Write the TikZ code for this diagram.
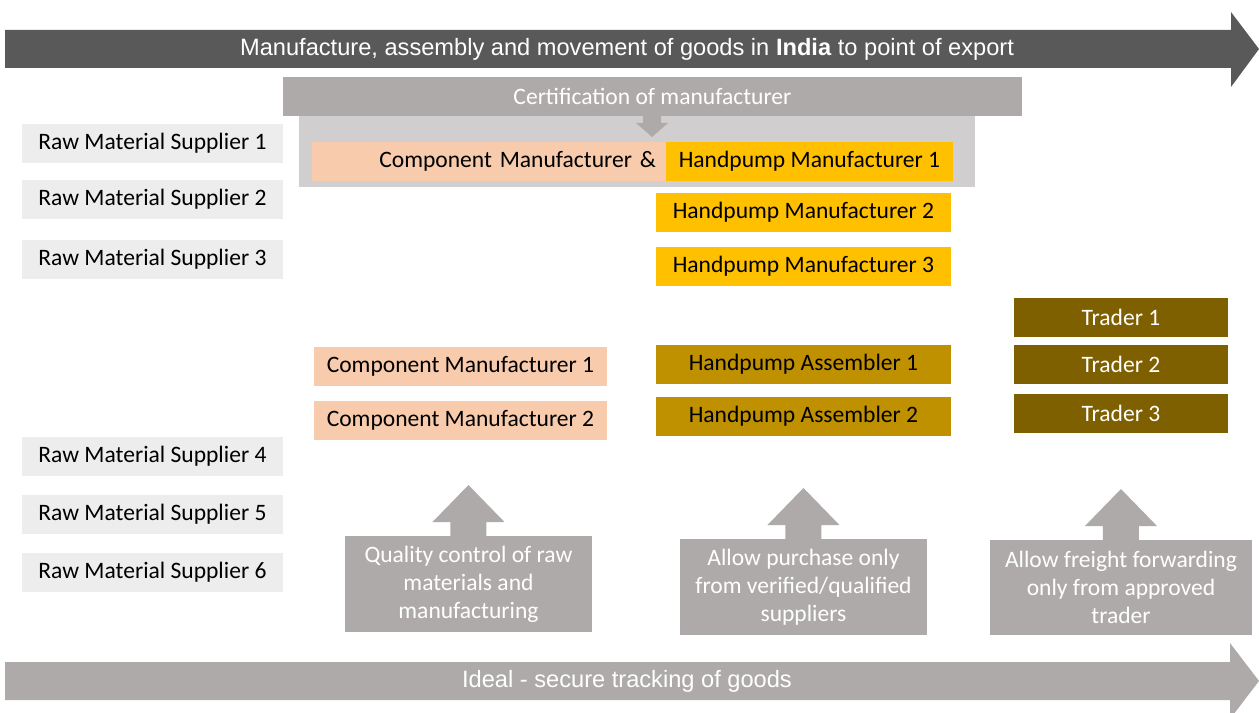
\documentclass[tikz,border=0pt]{standalone}
\usepackage{fontspec}
\setmainfont{Carlito}
\newfontfamily\arialfont{Liberation Sans}
\definecolor{darkband}{HTML}{595959}
\definecolor{midgray}{HTML}{AEAAAA}
\definecolor{certback}{HTML}{D0CECE}
\definecolor{supgray}{HTML}{EDEDED}
\definecolor{peach}{HTML}{F8CBAD}
\definecolor{gold}{HTML}{FFC000}
\definecolor{darkgold}{HTML}{BF9000}
\definecolor{tradebrown}{HTML}{7F6000}

\begin{document}
\begin{tikzpicture}[x=0.02cm, y=-0.02cm,
    font=\fontsize{13.4}{16}\selectfont,
    blk/.style={inner sep=0pt, outer sep=0pt, anchor=north west, minimum height=0.78cm},
    supplier/.style={blk, fill=supgray, minimum width=5.22cm},
    comp/.style={blk, fill=peach, minimum width=5.86cm},
    pump/.style={blk, fill=gold, minimum width=5.9cm},
    assem/.style={blk, fill=darkgold, minimum width=5.9cm},
    trader/.style={blk, fill=tradebrown, text=white, minimum width=4.28cm},
    callout/.style={blk, fill=midgray, text=white, align=center, minimum height=1.92cm},
    bandtext/.style={text=white, font=\arialfont\fontsize{13.45}{15}\selectfont}]
  \useasboundingbox (0,0) rectangle (1259,713);
  \clip (0,0) rectangle (1259,713);

  % bands
  \fill[darkband] (5,30) -- (1231,30) -- (1231,12) -- (1259,49) -- (1231,87) -- (1231,68) -- (5,68) -- cycle;
  \node[bandtext] (india) at (627,49) {Manufacture, assembly and movement of goods in \textbf{India} to point of export};
  \fill[midgray] (5,662) -- (1230,662) -- (1230,643) -- (1259,681) -- (1230,719) -- (1230,700) -- (5,700) -- cycle;
  \node[bandtext] (ideal) at (627,681) {Ideal - secure tracking of goods};

  % certification
  \node[blk, fill=certback, minimum width=13.52cm, minimum height=1.42cm] (certbg) at (299,116) {};
  \node[blk, fill=midgray, text=white, minimum width=14.78cm] (cert) at (283,77) {Certification of manufacturer};
  \fill[midgray] (643,116) -- (661,116) -- (661,123) -- (668,123) -- (652,137) -- (636,123) -- (643,123) -- cycle;
  \node[blk, fill=peach, minimum width=7.08cm, text width=6.68cm, inner xsep=0.2cm, align=right] (cmhm) at (312,142) {Component Manufacturer \&};
  \node[blk, fill=gold, minimum width=5.74cm] (hm1) at (666,142) {Handpump Manufacturer 1};

  % suppliers
  \node[supplier] (rms1) at (22,124) {Raw Material Supplier 1};
  \node[supplier] (rms2) at (22,180) {Raw Material Supplier 2};
  \node[supplier] (rms3) at (22,240) {Raw Material Supplier 3};
  \node[supplier] (rms4) at (22,437) {Raw Material Supplier 4};
  \node[supplier] (rms5) at (22,495) {Raw Material Supplier 5};
  \node[supplier] (rms6) at (22,553) {Raw Material Supplier 6};

  % manufacturers, assemblers, traders
  \node[pump] (hm2) at (656,193) {Handpump Manufacturer 2};
  \node[pump] (hm3) at (656,247) {Handpump Manufacturer 3};
  \node[comp] (cm1) at (314,347) {Component Manufacturer 1};
  \node[comp] (cm2) at (314,401) {Component Manufacturer 2};
  \node[assem] (ha1) at (656,345) {Handpump Assembler 1};
  \node[assem] (ha2) at (656,397) {Handpump Assembler 2};
  \node[trader] (tr1) at (1014,298) {Trader 1};
  \node[trader] (tr2) at (1014,345) {Trader 2};
  \node[trader] (tr3) at (1014,394) {Trader 3};

  % controls
  \node[callout, minimum width=4.94cm] (qc) at (345,536) {Quality control of raw\\materials and\\manufacturing};
  \node[callout, minimum width=4.94cm] (vp) at (680,539) {Allow purchase only\\from verified/qualified\\suppliers};
  \node[callout, minimum width=5.24cm, minimum height=1.9cm] (ff) at (990,540) {Allow freight forwarding\\only from approved\\trader};
  \foreach \c in {qc,vp,ff}
    \fill[midgray] ([xshift=-0.36cm]\c.north) -- ++(0,0.28cm) -- ++(-0.36cm,0) -- ++(0.72cm,0.74cm)
      -- ++(0.72cm,-0.74cm) -- ++(-0.36cm,0) -- ++(0,-0.28cm) -- cycle;
\end{tikzpicture}
\end{document}
